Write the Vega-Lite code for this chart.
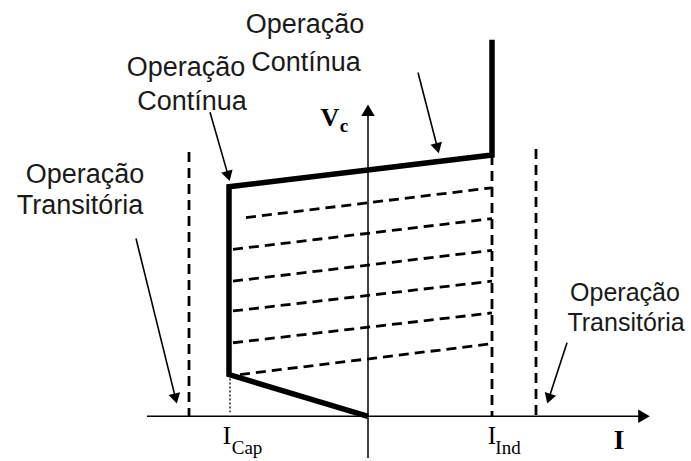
{
  "$schema": "https://vega.github.io/schema/vega-lite/v6.json",
  "width": 691,
  "height": 461,
  "padding": 0,
  "autosize": {"type": "fit", "contains": "padding"},
  "background": "white",
  "config": {"view": {"stroke": null}},
  "datasets": {
    "lines": [
      {"seg": "axisI", "ord": 1, "x": -221, "y": 0, "kind": "axis"},
      {"seg": "axisI", "ord": 2, "x": 272, "y": 0, "kind": "axis"},
      {"seg": "axisV", "ord": 1, "x": 0, "y": 304, "kind": "axis"},
      {"seg": "axisV", "ord": 2, "x": 0, "y": -42, "kind": "axis"},
      {"seg": "curve", "ord": 1, "x": 124, "y": 379, "kind": "thick"},
      {"seg": "curve", "ord": 2, "x": 124, "y": 263, "kind": "thick"},
      {"seg": "curve", "ord": 3, "x": -139, "y": 231, "kind": "thick"},
      {"seg": "curve", "ord": 4, "x": -139, "y": 42, "kind": "thick"},
      {"seg": "curve", "ord": 5, "x": 0, "y": 0, "kind": "thick"},
      {"seg": "vLeft", "ord": 1, "x": -179, "y": 266, "kind": "dash"},
      {"seg": "vLeft", "ord": 2, "x": -179, "y": 0, "kind": "dash"},
      {"seg": "vInd", "ord": 1, "x": 124, "y": 263, "kind": "dash"},
      {"seg": "vInd", "ord": 2, "x": 124, "y": 0, "kind": "dash"},
      {"seg": "vRight", "ord": 1, "x": 168, "y": 269, "kind": "dash"},
      {"seg": "vRight", "ord": 2, "x": 168, "y": 0, "kind": "dash"},
      {"seg": "d1", "ord": 1, "x": -122, "y": 200, "kind": "dash"},
      {"seg": "d1", "ord": 2, "x": 124, "y": 230, "kind": "dash"},
      {"seg": "d2", "ord": 1, "x": -135, "y": 168, "kind": "dash"},
      {"seg": "d2", "ord": 2, "x": 124, "y": 199, "kind": "dash"},
      {"seg": "d3", "ord": 1, "x": -135, "y": 136, "kind": "dash"},
      {"seg": "d3", "ord": 2, "x": 124, "y": 167, "kind": "dash"},
      {"seg": "d4", "ord": 1, "x": -135, "y": 106, "kind": "dash"},
      {"seg": "d4", "ord": 2, "x": 124, "y": 136, "kind": "dash"},
      {"seg": "d5", "ord": 1, "x": -135, "y": 74, "kind": "dash"},
      {"seg": "d5", "ord": 2, "x": 124, "y": 104, "kind": "dash"},
      {"seg": "d6", "ord": 1, "x": -128, "y": 42, "kind": "dash"},
      {"seg": "d6", "ord": 2, "x": 124, "y": 73, "kind": "dash"},
      {"seg": "dot", "ord": 1, "x": -138, "y": 42, "kind": "dot"},
      {"seg": "dot", "ord": 2, "x": -138, "y": 4, "kind": "dot"},
      {"seg": "a1", "ord": 1, "x": 50, "y": 346, "kind": "arrow"},
      {"seg": "a1", "ord": 2, "x": 69.5, "y": 270, "kind": "arrow"},
      {"seg": "a2", "ord": 1, "x": -158, "y": 306, "kind": "arrow"},
      {"seg": "a2", "ord": 2, "x": -139.7, "y": 242, "kind": "arrow"},
      {"seg": "a3", "ord": 1, "x": -232, "y": 179, "kind": "arrow"},
      {"seg": "a3", "ord": 2, "x": -192.4, "y": 18, "kind": "arrow"},
      {"seg": "a4", "ord": 1, "x": 199, "y": 74, "kind": "arrow"},
      {"seg": "a4", "ord": 2, "x": 180.8, "y": 18, "kind": "arrow"}
    ],
    "heads": [
      {"x": 276, "y": 0, "dir": 90, "kind": "axis"},
      {"x": 0, "y": 308, "dir": 0, "kind": "axis"},
      {"x": 69.5, "y": 269.8, "dir": 165.6, "kind": "label"},
      {"x": -139.7, "y": 241.8, "dir": 164, "kind": "label"},
      {"x": -192.4, "y": 17.8, "dir": 166.2, "kind": "label"},
      {"x": 180.8, "y": 17.7, "dir": 198, "kind": "label"}
    ],
    "texts": [
      {"x": -63, "y": 386, "text": "Operação", "kind": "sans"},
      {"x": -62, "y": 348, "text": "Contínua", "kind": "sans"},
      {"x": -182, "y": 342, "text": "Operação", "kind": "sans"},
      {"x": -176, "y": 308, "text": "Contínua", "kind": "sans"},
      {"x": -283, "y": 235, "text": "Operação", "kind": "sans"},
      {"x": -288, "y": 204, "text": "Transitória", "kind": "sans"},
      {"x": 257, "y": 116, "text": "Operação", "kind": "sansR"},
      {"x": 258, "y": 86, "text": "Transitória", "kind": "sansR"},
      {"x": -38, "y": 292, "text": "V", "kind": "serifBold"},
      {"x": -24, "y": 286, "text": "c", "kind": "serifBoldSub"},
      {"x": 251, "y": -33, "text": "I", "kind": "serifBoldBig"},
      {"x": -141, "y": -28, "text": "I", "kind": "serif"},
      {"x": -121, "y": -38, "text": "Cap", "kind": "serifSub"},
      {"x": 124, "y": -28, "text": "I", "kind": "serif"},
      {"x": 140, "y": -38, "text": "Ind", "kind": "serifSub"}
    ]
  },
  "encoding": {
    "x": {"field": "x", "type": "quantitative", "scale": {"domain": [-368, 323], "nice": false, "zero": false}, "axis": null},
    "y": {"field": "y", "type": "quantitative", "scale": {"domain": [-42, 419], "nice": false, "zero": false}, "axis": null}
  },
  "layer": [
    {
      "data": {"name": "lines"},
      "transform": [{"filter": "datum.kind === 'axis'"}],
      "mark": {"type": "line", "color": "black", "strokeWidth": 1.5},
      "encoding": {"detail": {"field": "seg"}, "order": {"field": "ord", "type": "quantitative"}}
    },
    {
      "data": {"name": "lines"},
      "transform": [{"filter": "datum.kind === 'dash'"}],
      "mark": {"type": "line", "color": "black", "strokeWidth": 2.8, "strokeDash": [10, 6]},
      "encoding": {"detail": {"field": "seg"}, "order": {"field": "ord", "type": "quantitative"}}
    },
    {
      "data": {"name": "lines"},
      "transform": [{"filter": "datum.kind === 'dot'"}],
      "mark": {"type": "line", "color": "black", "strokeWidth": 1.3, "strokeDash": [2, 2]},
      "encoding": {"detail": {"field": "seg"}, "order": {"field": "ord", "type": "quantitative"}}
    },
    {
      "data": {"name": "lines"},
      "transform": [{"filter": "datum.kind === 'arrow'"}],
      "mark": {"type": "line", "color": "black", "strokeWidth": 1.6},
      "encoding": {"detail": {"field": "seg"}, "order": {"field": "ord", "type": "quantitative"}}
    },
    {
      "data": {"name": "lines"},
      "transform": [{"filter": "datum.kind === 'thick'"}],
      "mark": {"type": "line", "color": "black", "strokeWidth": 5.5, "strokeJoin": "miter", "strokeCap": "butt"},
      "encoding": {"detail": {"field": "seg"}, "order": {"field": "ord", "type": "quantitative"}}
    },
    {
      "data": {"name": "heads"},
      "transform": [{"filter": "datum.kind === 'axis'"}],
      "mark": {"type": "point", "shape": "triangle-up", "filled": true, "color": "black", "opacity": 1, "size": 180},
      "encoding": {"angle": {"field": "dir", "type": "quantitative", "scale": null}}
    },
    {
      "data": {"name": "heads"},
      "transform": [{"filter": "datum.kind === 'label'"}],
      "mark": {"type": "point", "shape": "triangle-up", "filled": true, "color": "black", "opacity": 1, "size": 140},
      "encoding": {"angle": {"field": "dir", "type": "quantitative", "scale": null}}
    },
    {
      "data": {"name": "texts"},
      "transform": [{"filter": "datum.kind === 'sans'"}],
      "mark": {"type": "text", "font": "Liberation Sans", "fontSize": 27, "color": "#1a1a1a", "align": "center", "baseline": "alphabetic"},
      "encoding": {"text": {"field": "text"}}
    },
    {
      "data": {"name": "texts"},
      "transform": [{"filter": "datum.kind === 'sansR'"}],
      "mark": {"type": "text", "font": "Liberation Sans", "fontSize": 25, "color": "#1a1a1a", "align": "center", "baseline": "alphabetic"},
      "encoding": {"text": {"field": "text"}}
    },
    {
      "data": {"name": "texts"},
      "transform": [{"filter": "datum.kind === 'serifBold'"}],
      "mark": {"type": "text", "font": "Liberation Serif", "fontWeight": "bold", "fontSize": 26, "color": "black", "align": "center", "baseline": "alphabetic"},
      "encoding": {"text": {"field": "text"}}
    },
    {
      "data": {"name": "texts"},
      "transform": [{"filter": "datum.kind === 'serifBoldSub'"}],
      "mark": {"type": "text", "font": "Liberation Serif", "fontWeight": "bold", "fontSize": 19, "color": "black", "align": "center", "baseline": "alphabetic"},
      "encoding": {"text": {"field": "text"}}
    },
    {
      "data": {"name": "texts"},
      "transform": [{"filter": "datum.kind === 'serifBoldBig'"}],
      "mark": {"type": "text", "font": "Liberation Serif", "fontWeight": "bold", "fontSize": 27, "color": "black", "align": "center", "baseline": "alphabetic"},
      "encoding": {"text": {"field": "text"}}
    },
    {
      "data": {"name": "texts"},
      "transform": [{"filter": "datum.kind === 'serif'"}],
      "mark": {"type": "text", "font": "Liberation Serif", "fontSize": 25, "color": "black", "align": "center", "baseline": "alphabetic"},
      "encoding": {"text": {"field": "text"}}
    },
    {
      "data": {"name": "texts"},
      "transform": [{"filter": "datum.kind === 'serifSub'"}],
      "mark": {"type": "text", "font": "Liberation Serif", "fontSize": 19, "color": "black", "align": "center", "baseline": "alphabetic"},
      "encoding": {"text": {"field": "text"}}
    }
  ]
}
